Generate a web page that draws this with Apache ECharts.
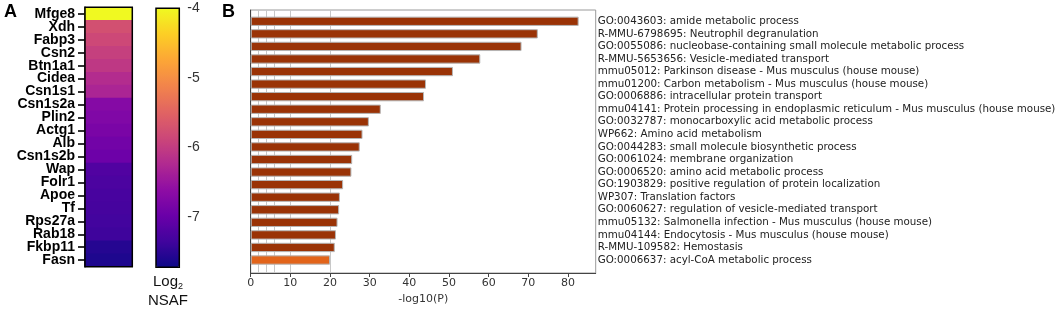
<!DOCTYPE html>
<html>
<head>
<meta charset="utf-8">
<script src="https://cdn.jsdelivr.net/npm/echarts@6/dist/echarts.min.js"></script>
<style>html,body{margin:0;padding:0;background:#fff;}#c{width:1059px;height:311px;}</style>
</head>
<body>
<div id="c"></div>
<script>
const genes = ['Mfge8','Xdh','Fabp3','Csn2','Btn1a1','Cidea','Csn1s1','Csn1s2a','Plin2','Actg1','Alb','Csn1s2b','Wap','Folr1','Apoe','Tf','Rps27a','Rab18','Fkbp11','Fasn'];
const log2NSAF = [-4.0,-5.75,-5.85,-5.95,-6.05,-6.2,-6.3,-6.7,-6.75,-6.82,-6.9,-6.95,-7.2,-7.25,-7.28,-7.3,-7.33,-7.36,-7.55,-7.6];
const colorbarTicks = [-7,-6,-5,-4];
const colorMin = -7.72, colorMax = -4;

const terms = [
 'GO:0043603: amide metabolic process',
 'R-MMU-6798695: Neutrophil degranulation',
 'GO:0055086: nucleobase-containing small molecule metabolic process',
 'R-MMU-5653656: Vesicle-mediated transport',
 'mmu05012: Parkinson disease - Mus musculus (house mouse)',
 'mmu01200: Carbon metabolism - Mus musculus (house mouse)',
 'GO:0006886: intracellular protein transport',
 'mmu04141: Protein processing in endoplasmic reticulum - Mus musculus (house mouse)',
 'GO:0032787: monocarboxylic acid metabolic process',
 'WP662: Amino acid metabolism',
 'GO:0044283: small molecule biosynthetic process',
 'GO:0061024: membrane organization',
 'GO:0006520: amino acid metabolic process',
 'GO:1903829: positive regulation of protein localization',
 'WP307: Translation factors',
 'GO:0060627: regulation of vesicle-mediated transport',
 'mmu05132: Salmonella infection - Mus musculus (house mouse)',
 'mmu04144: Endocytosis - Mus musculus (house mouse)',
 'R-MMU-109582: Hemostasis',
 'GO:0006637: acyl-CoA metabolic process'
];
const negLog10P = [82.7,72.4,68.3,57.9,51.0,44.2,43.7,32.8,29.8,28.2,27.5,25.6,25.4,23.3,22.5,22.3,21.9,21.5,21.2,20.0];
const xTicks = [0,10,20,30,40,50,60,70,80];
const thresholdLines = [2,4,6,10,20];

const plasma = ['#0d0887','#41049d','#6a00a8','#8f0da4','#b12a90','#cc4778','#e16462','#f2844b','#fca636','#fcce25','#f0f921'];

const chart = echarts.init(document.getElementById('c'), null, {renderer:'canvas'});
const lastIdx = negLog10P.length - 1;
const geneIdx = genes.map((g, i) => i);
const noBounds = {containLabel: false, outerBoundsMode: 'none'};
const option = {
  animation: false,
  backgroundColor: '#fff',
  textStyle: {fontFamily: 'Liberation Sans, Arial, sans-serif'},
  grid: [
    Object.assign({left: 85, top: 7.3, width: 47.3, height: 259.4, show: true, borderColor: '#000', borderWidth: 1.5, backgroundColor: 'transparent', z: 10}, noBounds),
    Object.assign({left: 156, top: 8.3, width: 23.3, height: 259, show: true, borderColor: '#000', borderWidth: 1.5, backgroundColor: 'transparent', z: 10}, noBounds),
    Object.assign({left: 250.7, top: 10, width: 345, height: 263, show: true, borderColor: '#9a9a9a', borderWidth: 1, backgroundColor: 'transparent'}, noBounds),
    Object.assign({left: 250.7, top: 15, width: 345, height: 251.3}, noBounds),
    Object.assign({left: 85, top: 7.3, width: 47.3, height: 259.4}, noBounds)
  ],
  xAxis: [
    {gridIndex: 0, type: 'category', data: ['v'], show: false},
    {gridIndex: 1, type: 'value', min: 0, max: 1, show: false},
    {gridIndex: 2, type: 'value', min: 0, max: 87, position: 'bottom',
     axisLine: {show: true, lineStyle: {color: '#444', width: 1}},
     axisTick: {show: true, length: 4, customValues: xTicks, lineStyle: {color: '#444'}},
     axisLabel: {customValues: xTicks, color: '#333', fontSize: 11, fontFamily: 'DejaVu Sans', margin: 5},
     splitLine: {show: false},
     name: '-log10(P)', nameLocation: 'middle', nameGap: 19,
     nameTextStyle: {color: '#333', fontSize: 11, fontFamily: 'DejaVu Sans'}},
    {gridIndex: 3, type: 'value', min: 0, max: 87, show: false},
    {gridIndex: 4, type: 'value', min: 0, max: 1, show: false}
  ],
  yAxis: [
    {gridIndex: 0, type: 'category', data: genes, inverse: true,
     axisLine: {show: false}, axisTick: {show: false},
     axisLabel: {color: '#000', fontWeight: 'bold', fontSize: 14, margin: 10, interval: 0, fontFamily: 'Liberation Sans'}},
    {gridIndex: 1, type: 'value', min: colorMin, max: colorMax, position: 'left',
     axisLine: {show: false}, splitLine: {show: false},
     axisTick: {show: true, inside: true, length: 3, customValues: colorbarTicks, lineStyle: {color: '#000', width: 1.5}},
     axisLabel: {show: false}},
    {gridIndex: 1, type: 'value', min: colorMin, max: colorMax, position: 'right',
     axisLine: {show: false}, splitLine: {show: false},
     axisTick: {show: true, inside: true, length: 3, customValues: colorbarTicks, lineStyle: {color: '#000', width: 1.5}},
     axisLabel: {customValues: colorbarTicks, color: '#333', fontSize: 14, margin: 8, fontFamily: 'Liberation Sans'}},
    {gridIndex: 2, type: 'value', min: 0, max: 1, position: 'left',
     axisLine: {show: true, lineStyle: {color: '#444', width: 1}},
     axisTick: {show: false}, axisLabel: {show: false}, splitLine: {show: false}},
    {gridIndex: 3, type: 'category', data: terms, inverse: true, position: 'right',
     axisLine: {show: false}, axisTick: {show: false},
     axisLabel: {color: '#222', fontSize: 10.3, fontFamily: 'DejaVu Sans', margin: 2, interval: 0}},
    {gridIndex: 4, type: 'value', min: -0.5, max: genes.length - 0.5, inverse: true, position: 'left',
     axisLine: {show: true, lineStyle: {color: '#000', width: 1.5}},
     axisTick: {show: true, length: 7, customValues: geneIdx, lineStyle: {color: '#000', width: 1.6}},
     axisLabel: {show: false}, splitLine: {show: false}}
  ],
  visualMap: {
    type: 'continuous', seriesIndex: 0, min: colorMin, max: colorMax,
    left: 156, top: 8.3, itemWidth: 23.3, itemHeight: 259, padding: 0,
    calculable: false, hoverLink: false, text: null, showLabel: false,
    inRange: {color: plasma}
  },
  series: [
    {type: 'heatmap', xAxisIndex: 0, yAxisIndex: 0,
     data: genes.map((g, i) => [0, i, log2NSAF[i]]), itemStyle: {borderWidth: 0}},
    {type: 'line', xAxisIndex: 2, yAxisIndex: 3, data: [], z: 1, silent: true,
     markLine: {silent: true, z: 1, symbol: ['none','none'], label: {show: false},
       lineStyle: {color: '#c8c8c8', type: 'solid', width: 1},
       data: thresholdLines.map(v => ({xAxis: v}))}},
    {type: 'bar', xAxisIndex: 3, yAxisIndex: 4, z: 3, barWidth: '74%',
     itemStyle: {color: '#9a3306', borderColor: '#b5b5b5', borderWidth: 1},
     data: negLog10P.map((v, i) => i === lastIdx ? {value: v, itemStyle: {color: '#e2641a'}} : v)}
  ],
  graphic: [
    {type: 'text', left: 4, top: 3, style: {text: 'A', fontSize: 18, fontWeight: 'bold', fill: '#000', fontFamily: 'Liberation Sans'}},
    {type: 'text', left: 222, top: 3, style: {text: 'B', fontSize: 18, fontWeight: 'bold', fill: '#000', fontFamily: 'Liberation Sans'}},
    {type: 'text', x: 168, y: 272, style: {
      text: '{a|Log}{b|2}\n{a|NSAF}', align: 'center', verticalAlign: 'top', fill: '#111',
      rich: {a: {fontSize: 15, fontFamily: 'Liberation Sans', lineHeight: 19, fill: '#111'},
             b: {fontSize: 9, fontFamily: 'Liberation Sans', lineHeight: 19, verticalAlign: 'bottom', padding: [8,0,0,0], fill: '#111'}}}}
  ]
};
chart.setOption(option);
</script>
</body>
</html>
